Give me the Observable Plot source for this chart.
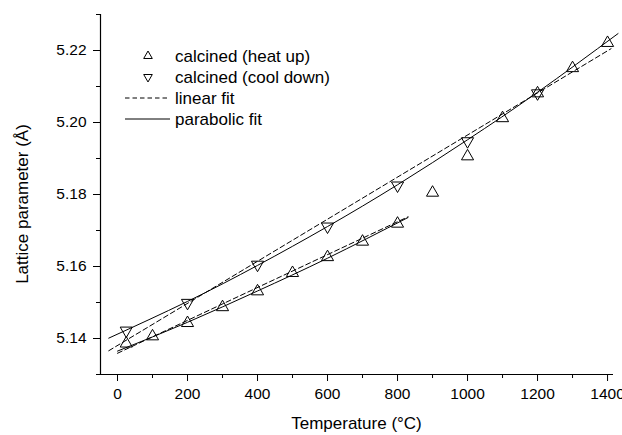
<!DOCTYPE html>
<html><head><meta charset="utf-8">
<script src="https://cdn.jsdelivr.net/npm/d3@7"></script>
<script src="https://cdn.jsdelivr.net/npm/@observablehq/plot@0.6"></script>
<style>
body{margin:0;background:#fff;}
svg{font-family:"Liberation Sans",Arial,Helvetica,sans-serif;}
</style>
</head><body><div id="chart"></div>
<script>
// Heat-up measurements (△)
const heatT = [25, 100, 200, 300, 400, 500, 600, 700, 800, 900, 1000, 1100, 1200, 1300, 1400];
const heatA = [5.1386, 5.1406, 5.1443, 5.1487, 5.1531, 5.1582, 5.1626, 5.1669, 5.1719, 5.1805, 5.1906, 5.2012, 5.2081, 5.2151, 5.2221];
// Cool-down measurements (▽)
const coolT = [25, 200, 400, 600, 800, 1000, 1200];
const coolA = [5.1422, 5.1499, 5.1605, 5.1711, 5.1825, 5.1948, 5.2081];
// Fit curves
const highParT = [-25, 200, 400, 600, 800, 1000, 1200, 1430];
const highParA = [5.1401, 5.1503, 5.1603, 5.1711, 5.1827, 5.1952, 5.2084, 5.2247];
const highLinT = [-25, 1410];
const highLinA = [5.1366, 5.2205];
const lowParT = [0, 200, 400, 600, 830];
const lowParA = [5.1365, 5.1445, 5.1532, 5.1623, 5.1736];
const lowLinT = [0, 830];
const lowLinA = [5.1359, 5.1738];
// Axes
const xDomain = [-48.6, 1417];
const yDomain = [5.13, 5.23];
const xMajorTicks = [0, 200, 400, 600, 800, 1000, 1200, 1400];
const xMinorTicks = [100, 300, 500, 700, 900, 1100, 1300];
const yMajorTicks = [5.14, 5.16, 5.18, 5.20, 5.22];
const yMinorTicks = [5.13, 5.15, 5.17, 5.19, 5.21, 5.23];
const xTitle = "Temperature (°C)";
const yTitle = "Lattice parameter (Å)";
const legendLabels = ["calcined (heat up)", "calcined (cool down)", "linear fit", "parabolic fit"];

const triUp = {draw(ctx, size) {
  const y = -Math.sqrt(size / (3 * Math.sqrt(3)));
  ctx.moveTo(0, y * 2); ctx.lineTo(-Math.sqrt(3) * y, -y); ctx.lineTo(Math.sqrt(3) * y, -y); ctx.closePath();
}};
const triDown = {draw(ctx, size) {
  const y = Math.sqrt(size / (3 * Math.sqrt(3)));
  ctx.moveTo(0, y * 2); ctx.lineTo(-Math.sqrt(3) * y, -y); ctx.lineTo(Math.sqrt(3) * y, -y); ctx.closePath();
}};

const zip = (T, A) => T.map((t, i) => ({t, a: A[i]}));
const heat = zip(heatT, heatA), cool = zip(coolT, coolA);

const plot = Plot.plot({
  width: 622, height: 435,
  marginLeft: 100, marginRight: 9, marginTop: 14, marginBottom: 61,
  x: {domain: xDomain},
  y: {domain: yDomain},
  style: {fontFamily: '"Liberation Sans",Arial,sans-serif', fontSize: "15.5px", color: "#000", background: "#fff", overflow: "visible"},
  marks: [
    Plot.axisX({ticks: xMajorTicks, tickSize: 7, tickPadding: 6, tickFormat: d => String(d), label: null, stroke: "#000"}),
    Plot.axisX({ticks: xMinorTicks, tickSize: 4, tickFormat: () => "", label: null}),
    Plot.axisY({ticks: yMajorTicks, tickSize: 7, tickPadding: 7, tickFormat: d3.format(".2f"), label: null}),
    Plot.axisY({ticks: yMinorTicks, tickSize: 4, tickFormat: () => "", label: null}),
    Plot.ruleX([xDomain[0]], {stroke: "#000", strokeWidth: 1.2}),
    Plot.ruleY([yDomain[0]], {stroke: "#000", strokeWidth: 1.2}),
    Plot.line(zip(highLinT, highLinA), {x: "t", y: "a", stroke: "#000", strokeWidth: 1, strokeDasharray: "5,3"}),
    Plot.line(zip(lowLinT, lowLinA), {x: "t", y: "a", stroke: "#000", strokeWidth: 1, strokeDasharray: "5,3"}),
    Plot.line(zip(highParT, highParA), {x: "t", y: "a", stroke: "#000", strokeWidth: 1, curve: "natural"}),
    Plot.line(zip(lowParT, lowParA), {x: "t", y: "a", stroke: "#000", strokeWidth: 1, curve: "natural"}),
    Plot.dot(heat, {x: "t", y: "a", symbol: triUp, r: 4.5, stroke: "#000", fill: "none", strokeWidth: 1}),
    Plot.dot(cool, {x: "t", y: "a", symbol: triDown, r: 4.5, stroke: "#000", fill: "none", strokeWidth: 1})
  ]
});

const svg = d3.select(plot);
// axis titles
svg.append("text").attr("x", 356.5).attr("y", 429).attr("text-anchor", "middle")
  .attr("font-size", "17px").attr("fill", "#000").text(xTitle);
svg.append("text").attr("transform", "translate(28,204) rotate(-90)").attr("text-anchor", "middle")
  .attr("font-size", "17px").attr("fill", "#000").text(yTitle);

// legend
const rowsY = [56, 77, 98, 119];
const lg = svg.append("g").attr("font-size", "17px").attr("fill", "#000").attr("text-anchor", "start");
const legSize = Math.PI * 3.2 * 3.2;
lg.append("path").attr("d", d3.symbol(triUp, legSize)()).attr("transform", `translate(148,${rowsY[0]})`)
  .attr("fill", "none").attr("stroke", "#000");
lg.append("path").attr("d", d3.symbol(triDown, legSize)()).attr("transform", `translate(148,${rowsY[1]})`)
  .attr("fill", "none").attr("stroke", "#000");
lg.append("line").attr("x1", 125).attr("x2", 170).attr("y1", rowsY[2]).attr("y2", rowsY[2])
  .attr("stroke", "#000").attr("stroke-dasharray", "4.5,3");
lg.append("line").attr("x1", 125).attr("x2", 170).attr("y1", rowsY[3]).attr("y2", rowsY[3])
  .attr("stroke", "#000");
legendLabels.forEach((s, i) => {
  lg.append("text").attr("x", 175).attr("y", rowsY[i]).attr("dy", "0.35em").attr("text-anchor", "start").text(s);
});

document.getElementById("chart").appendChild(plot);
</script>
</body></html>
